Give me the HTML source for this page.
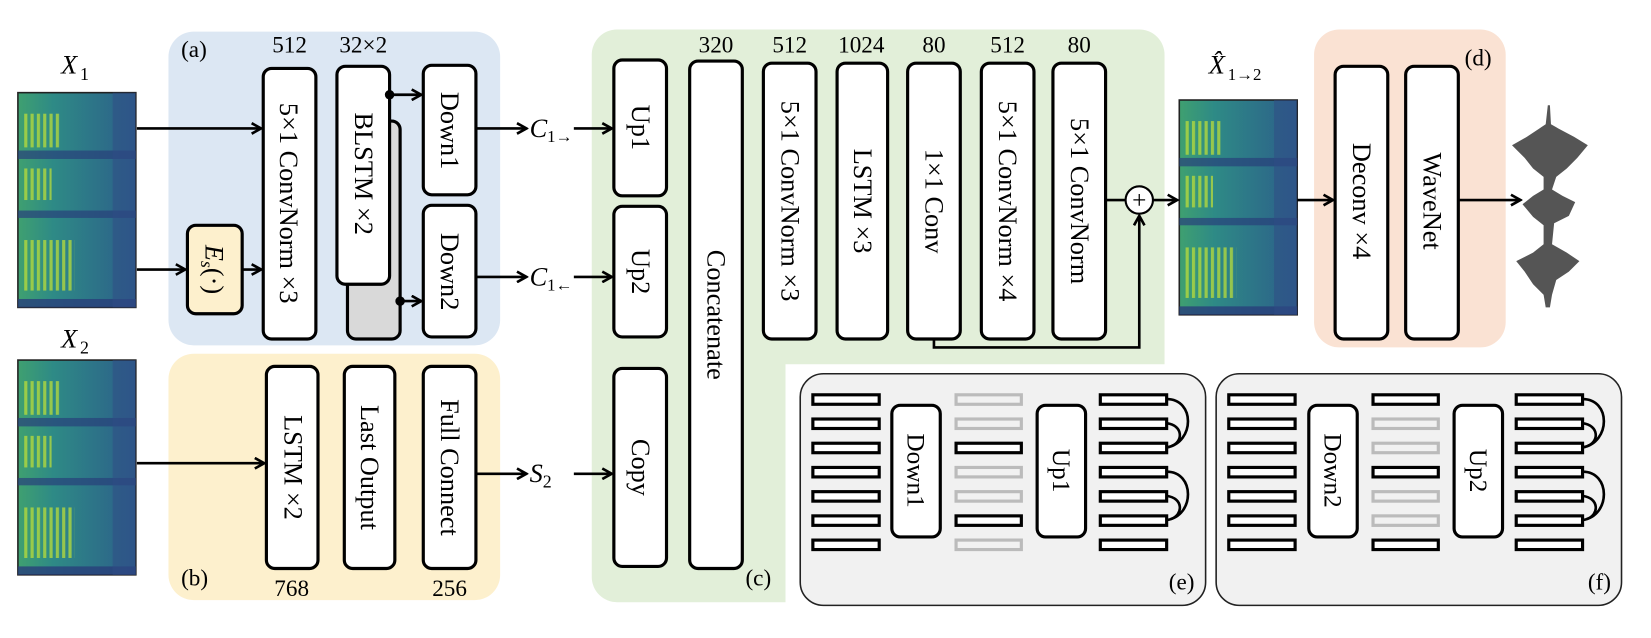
<!DOCTYPE html>
<html><head><meta charset="utf-8"><style>
html,body{margin:0;padding:0;background:#fff;}
svg{display:block;}
text{font-family:"Liberation Serif",serif;fill:#000;}
</style></head><body>
<svg width="1651" height="638" viewBox="0 0 1568 606" preserveAspectRatio="none" xmlns="http://www.w3.org/2000/svg">
<defs>
<marker id="ar" markerWidth="12" markerHeight="12" refX="10" refY="6" orient="auto" markerUnits="userSpaceOnUse">
<path d="M1,1 L10,6 L1,11" fill="none" stroke="#000" stroke-width="2.5"/>
</marker>
<linearGradient id="spg" x1="0" x2="1" y1="0" y2="0">
<stop offset="0" stop-color="#3fa070"/><stop offset="0.3" stop-color="#2e8a86"/><stop offset="1" stop-color="#2c5e8a"/>
</linearGradient>
<pattern id="stripes" width="6" height="10" patternUnits="userSpaceOnUse">
<rect width="3" height="10" fill="#b9dc3a"/>
</pattern>
<g id="spec">
<rect x="0" y="0" width="112" height="204" fill="url(#spg)" stroke="#222" stroke-width="1.5"/>
<rect x="0" y="55" width="112" height="8" fill="#28407a" opacity="0.7"/>
<rect x="0" y="112" width="112" height="7" fill="#28407a" opacity="0.7"/>
<rect x="0" y="196" width="112" height="8" fill="#283f7a" opacity="0.8"/>
<rect x="4" y="20" width="36" height="32" fill="url(#stripes)" opacity="0.75"/>
<rect x="4" y="72" width="28" height="30" fill="url(#stripes)" opacity="0.75"/>
<rect x="4" y="140" width="50" height="48" fill="url(#stripes)" opacity="0.75"/>
<rect x="90" y="0" width="22" height="204" fill="#2f4b86" opacity="0.5"/>
</g>
</defs>

<rect x="160" y="30" width="315" height="298" rx="24" fill="#dce7f3"/>
<rect x="160" y="336" width="315" height="234" rx="24" fill="#fdf0cd"/>
<path d="M586,28 H1082 a24,24 0 0 1 24,24 V346 H746 V572 H586 a24,24 0 0 1 -24,-24 V52 a24,24 0 0 1 24,-24 z" fill="#e2efd9"/>
<rect x="1248" y="28" width="182" height="302" rx="24" fill="#fae2d3"/>
<rect x="760" y="355" width="385" height="220" rx="22" fill="#f1f1f1" stroke="#222" stroke-width="1.5"/>
<rect x="1155" y="355" width="385" height="220" rx="22" fill="#f1f1f1" stroke="#222" stroke-width="1.5"/>

<use href="#spec" x="17" y="88"/>
<use href="#spec" x="17" y="342"/>
<use href="#spec" x="1120" y="95"/>

<text x="58" y="70" font-size="25" font-style="italic">X</text><text x="76" y="76" font-size="17">1</text>
<text x="58" y="330" font-size="25" font-style="italic">X</text><text x="76" y="336" font-size="17">2</text>
<text x="1148" y="70" font-size="25" font-style="italic">X̂</text><text x="1166" y="76" font-size="16">1→2</text>
<text x="172" y="54" font-size="22">(a)</text>
<text x="172" y="556" font-size="22">(b)</text>
<text x="708" y="556" font-size="22">(c)</text>
<text x="1391" y="62" font-size="22">(d)</text>
<text x="1110" y="560" font-size="22">(e)</text>
<text x="1508" y="560" font-size="22">(f)</text>

<g font-size="22" text-anchor="middle">
<text x="275" y="50">512</text><text x="345" y="50">32×2</text>
<text x="680" y="50">320</text><text x="750" y="50">512</text><text x="818" y="50">1024</text>
<text x="887" y="50">80</text><text x="957" y="50">512</text><text x="1025" y="50">80</text>
<text x="277" y="566">768</text><text x="427" y="566">256</text>
</g>

<g fill="#fff" stroke="#000" stroke-width="3">
<rect x="330" y="115" width="50" height="207" rx="8" fill="#d9d9d9"/>
<rect x="250" y="65" width="50" height="257" rx="8"/>
<rect x="320" y="63" width="50" height="207" rx="8"/>
<rect x="402" y="62" width="50" height="123" rx="8"/>
<rect x="402" y="195" width="50" height="125" rx="8"/>
<rect x="178" y="214" width="52" height="84" rx="8" fill="#fdf0cd"/>
<rect x="253" y="348" width="49" height="192" rx="8"/>
<rect x="327" y="348" width="48" height="192" rx="8"/>
<rect x="402" y="348" width="50" height="192" rx="8"/>
<rect x="583" y="57" width="50" height="129" rx="8"/>
<rect x="583" y="196" width="50" height="124" rx="8"/>
<rect x="583" y="350" width="50" height="188" rx="8"/>
<rect x="655" y="58" width="50" height="482" rx="8"/>
<rect x="725" y="60" width="50" height="262" rx="8"/>
<rect x="795" y="60" width="48" height="262" rx="8"/>
<rect x="862" y="60" width="50" height="262" rx="8"/>
<rect x="932" y="60" width="50" height="262" rx="8"/>
<rect x="1000" y="60" width="50" height="262" rx="8"/>
<rect x="1268" y="63" width="50" height="259" rx="8"/>
<rect x="1335" y="63" width="50" height="259" rx="8"/>
</g>

<g font-size="25" text-anchor="middle">
<text transform="translate(266,193) rotate(90)">5×1 ConvNorm ×3</text>
<text transform="translate(337,165) rotate(90)">BLSTM ×2</text>
<text transform="translate(419,124) rotate(90)">Down1</text>
<text transform="translate(419,258) rotate(90)">Down2</text>
<text transform="translate(195,256) rotate(90)" font-style="italic">E<tspan font-size="17" dy="4">s</tspan><tspan dy="-4" font-style="normal">(·)</tspan></text>
<text transform="translate(270,444) rotate(90)">LSTM ×2</text>
<text transform="translate(343,444) rotate(90)">Last Output</text>
<text transform="translate(419,444) rotate(90)">Full Connect</text>
<text transform="translate(600,121) rotate(90)">Up1</text>
<text transform="translate(600,258) rotate(90)">Up2</text>
<text transform="translate(600,444) rotate(90)">Copy</text>
<text transform="translate(672,299) rotate(90)">Concatenate</text>
<text transform="translate(742,191) rotate(90)">5×1 ConvNorm ×3</text>
<text transform="translate(811,191) rotate(90)">LSTM ×3</text>
<text transform="translate(879,191) rotate(90)">1×1 Conv</text>
<text transform="translate(949,191) rotate(90)">5×1 ConvNorm ×4</text>
<text transform="translate(1017,191) rotate(90)">5×1 ConvNorm</text>
<text transform="translate(1285,191) rotate(90)">Deconv ×4</text>
<text transform="translate(1352,191) rotate(90)">WaveNet</text>
</g>

<g stroke="#000" stroke-width="2.5" fill="none">
<line x1="130" y1="122" x2="248" y2="122" marker-end="url(#ar)"/>
<line x1="130" y1="256" x2="176" y2="256" marker-end="url(#ar)"/>
<line x1="230" y1="256" x2="248" y2="256" marker-end="url(#ar)"/>
<line x1="370" y1="90" x2="400" y2="90" marker-end="url(#ar)"/>
<line x1="380" y1="286" x2="400" y2="286" marker-end="url(#ar)"/>
<line x1="452" y1="122" x2="500" y2="122" marker-end="url(#ar)"/>
<line x1="452" y1="263" x2="500" y2="263" marker-end="url(#ar)"/>
<line x1="545" y1="122" x2="581" y2="122" marker-end="url(#ar)"/>
<line x1="545" y1="263" x2="581" y2="263" marker-end="url(#ar)"/>
<line x1="130" y1="440" x2="251" y2="440" marker-end="url(#ar)"/>
<line x1="452" y1="450" x2="500" y2="450" marker-end="url(#ar)"/>
<line x1="545" y1="450" x2="581" y2="450" marker-end="url(#ar)"/>
<line x1="1050" y1="190" x2="1069" y2="190"/>
<line x1="1095" y1="190" x2="1118" y2="190" marker-end="url(#ar)"/>
<path d="M887,322 V330 H1082 V205" marker-end="url(#ar)"/>
<line x1="1232" y1="190" x2="1266" y2="190" marker-end="url(#ar)"/>
<line x1="1385" y1="190" x2="1444" y2="190" marker-end="url(#ar)"/>
</g>
<circle cx="370" cy="90" r="4.5" fill="#000"/>
<circle cx="380" cy="286" r="4.5" fill="#000"/>
<circle cx="1082" cy="190" r="13" fill="#fff" stroke="#000" stroke-width="2"/>
<text x="1082" y="198" font-size="24" text-anchor="middle">+</text>

<g font-size="25" font-style="italic">
<text x="503" y="130">C<tspan font-size="16" font-style="normal" dy="5">1→</tspan></text>
<text x="503" y="271">C<tspan font-size="16" font-style="normal" dy="5">1←</tspan></text>
<text x="503" y="458">S<tspan font-size="17" font-style="normal" dy="5">2</tspan></text>
</g>

<g fill="#555">
<path d="M1470,100 L1472,100 L1473,118 L1480,122 L1495,130 L1508,138 L1498,150 L1488,160 L1478,168 L1474,180 L1484,186 L1496,192 L1490,205 L1476,212 L1474,232 L1488,240 L1500,248 L1490,258 L1478,266 L1474,280 L1472,292 L1468,292 L1466,280 L1456,270 L1448,258 L1440,248 L1456,240 L1466,232 L1466,214 L1456,206 L1446,194 L1456,186 L1466,180 L1466,168 L1456,160 L1448,150 L1436,138 L1450,130 L1462,122 L1468,118 Z"/>
</g>

<g stroke="#000" stroke-width="3" fill="#fff">
<rect x="772" y="375" width="63" height="9"/><rect x="772" y="398" width="63" height="9"/><rect x="772" y="421" width="63" height="9"/><rect x="772" y="444" width="63" height="9"/><rect x="772" y="467" width="63" height="9"/><rect x="772" y="490" width="63" height="9"/><rect x="772" y="513" width="63" height="9"/>
<rect x="1045" y="375" width="63" height="9"/><rect x="1045" y="398" width="63" height="9"/><rect x="1045" y="421" width="63" height="9"/><rect x="1045" y="444" width="63" height="9"/><rect x="1045" y="467" width="63" height="9"/><rect x="1045" y="490" width="63" height="9"/><rect x="1045" y="513" width="63" height="9"/>
<rect x="1167" y="375" width="63" height="9"/><rect x="1167" y="398" width="63" height="9"/><rect x="1167" y="421" width="63" height="9"/><rect x="1167" y="444" width="63" height="9"/><rect x="1167" y="467" width="63" height="9"/><rect x="1167" y="490" width="63" height="9"/><rect x="1167" y="513" width="63" height="9"/>
<rect x="1440" y="375" width="63" height="9"/><rect x="1440" y="398" width="63" height="9"/><rect x="1440" y="421" width="63" height="9"/><rect x="1440" y="444" width="63" height="9"/><rect x="1440" y="467" width="63" height="9"/><rect x="1440" y="490" width="63" height="9"/><rect x="1440" y="513" width="63" height="9"/>
<rect x="908" y="421" width="62" height="9"/><rect x="908" y="490" width="62" height="9"/>
<rect x="1304" y="375" width="62" height="9"/><rect x="1304" y="444" width="62" height="9"/><rect x="1304" y="513" width="62" height="9"/>
</g>
<g stroke="#bbb" stroke-width="3" fill="#f1f1f1">
<rect x="908" y="375" width="62" height="9"/><rect x="908" y="398" width="62" height="9"/><rect x="908" y="444" width="62" height="9"/><rect x="908" y="467" width="62" height="9"/><rect x="908" y="513" width="62" height="9"/>
<rect x="1304" y="398" width="62" height="9"/><rect x="1304" y="421" width="62" height="9"/><rect x="1304" y="467" width="62" height="9"/><rect x="1304" y="490" width="62" height="9"/>
</g>
<g fill="#fff" stroke="#000" stroke-width="3">
<rect x="847" y="385" width="46" height="125" rx="8"/>
<rect x="985" y="385" width="46" height="125" rx="8"/>
<rect x="1243" y="385" width="46" height="125" rx="8"/>
<rect x="1381" y="385" width="46" height="125" rx="8"/>
</g>
<g font-size="24" text-anchor="middle">
<text transform="translate(862,447) rotate(90)">Down1</text>
<text transform="translate(1000,447) rotate(90)">Up1</text>
<text transform="translate(1258,447) rotate(90)">Down2</text>
<text transform="translate(1396,447) rotate(90)">Up2</text>
</g>
<g stroke="#000" stroke-width="2.5" fill="none">
<path d="M1108,379 C1135,379 1135,420 1108,425" />
<path d="M1108,402 C1124,404 1124,420 1112,424" />
<path d="M1108,448 C1135,448 1135,490 1108,494" />
<path d="M1108,471 C1124,473 1124,489 1112,493" />
<path d="M1503,379 C1530,379 1530,420 1503,425" />
<path d="M1503,402 C1519,404 1519,420 1507,424" />
<path d="M1503,448 C1530,448 1530,490 1503,494" />
<path d="M1503,471 C1519,473 1519,489 1507,493" />
</g>
</svg>
</body></html>
